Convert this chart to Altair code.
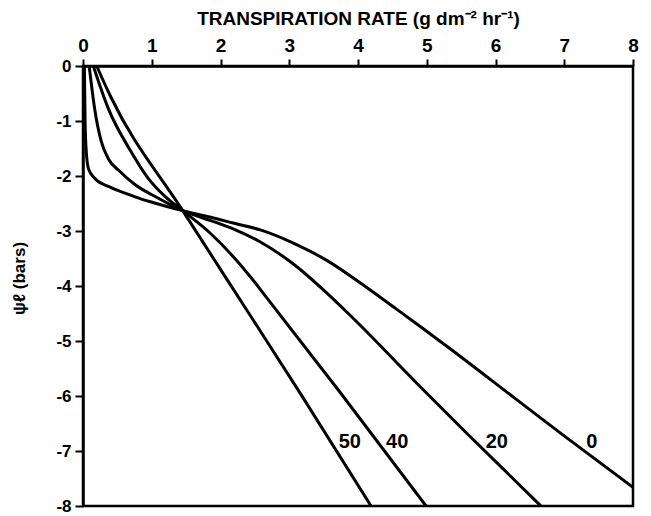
import altair as alt
import pandas as pd

# Curve data (transpiration rate vs leaf water potential)
c0_x = [0.02, 0.03, 0.05, 0.08, 0.17, 0.37, 0.65, 0.85, 1.04, 1.45, 1.86, 2.2, 2.58, 3.06, 3.54, 4.03, 4.56, 4.92, 5.35, 6.27, 6.95, 8.0]
c0_y = [0, -1.0, -1.6, -1.87, -2.04, -2.19, -2.33, -2.42, -2.49, -2.63, -2.75, -2.86, -2.98, -3.22, -3.53, -3.94, -4.42, -4.75, -5.15, -6.03, -6.68, -7.66]

c20_x = [0.09, 0.17, 0.27, 0.37, 0.53, 0.75, 1.09, 1.45, 1.9, 2.2, 2.58, 3.06, 3.54, 3.9, 4.92, 5.6, 6.66]
c20_y = [0, -0.78, -1.39, -1.69, -1.91, -2.15, -2.40, -2.63, -2.83, -2.97, -3.2, -3.6, -4.12, -4.55, -5.85, -6.7, -8.0]

c40_x = [0.15, 0.37, 0.7, 0.94, 1.2, 1.45, 1.86, 2.44, 2.64, 3.75, 4.99]
c40_y = [0, -0.78, -1.56, -2.03, -2.38, -2.63, -3.05, -3.84, -4.16, -5.95, -8.0]

c50_x = [0.2, 0.27, 0.4, 1.45, 2.44, 3.17, 4.19]
c50_y = [0, -0.2, -0.55, -2.63, -4.55, -5.97, -8.0]

label_text = ["50", "40", "20", "0"]
label_x = [3.88, 4.57, 6.02, 7.4]
label_y = [-6.84, -6.84, -6.84, -6.84]

rows = []
for name, xs, ys in [("0", c0_x, c0_y), ("20", c20_x, c20_y), ("40", c40_x, c40_y), ("50", c50_x, c50_y)]:
    for i, (a, b) in enumerate(zip(xs, ys)):
        rows.append({"series": name, "rate": a, "psi": b, "order": i})
df = pd.DataFrame(rows)
labels = pd.DataFrame({"text": label_text, "rate": label_x, "psi": label_y})

FONT = "Liberation Sans"

xscale = alt.Scale(domain=[0, 8], nice=False, zero=False)
yscale = alt.Scale(domain=[-8, 0], nice=False, zero=False)

lines = alt.Chart(df).mark_line(color="black", strokeWidth=3, interpolate="monotone", clip=True).encode(
    x=alt.X("rate:Q", scale=xscale,
            axis=alt.Axis(orient="top", title="TRANSPIRATION RATE (g dm⁻² hr⁻¹)",
                          values=[0, 1, 2, 3, 4, 5, 6, 7, 8], format="d", grid=False,
                          tickSize=7, tickWidth=2, tickColor="black",
                          domainWidth=2.5, domainColor="black",
                          labelFont=FONT, labelFontSize=19, labelFontWeight="bold", labelColor="black",
                          labelPadding=4, labelFlush=False,
                          titleFont=FONT, titleFontSize=19, titleFontWeight="bold", titleColor="black",
                          titlePadding=8)),
    y=alt.Y("psi:Q", scale=yscale,
            axis=alt.Axis(orient="left", title="ψℓ (bars)",
                          values=[0, -1, -2, -3, -4, -5, -6, -7, -8], grid=False,
                          labelExpr="datum.value == 0 ? '0' : '-' + abs(datum.value)",
                          tickSize=8, tickWidth=2, tickColor="black",
                          domainWidth=2.5, domainColor="black",
                          labelFont=FONT, labelFontSize=17, labelFontWeight="bold", labelColor="black",
                          labelPadding=4, labelFlush=False,
                          titleFont=FONT, titleFontSize=17, titleFontWeight="bold", titleColor="black",
                          titlePadding=27, titleY=212)),
    detail="series:N",
    order="order:Q",
)

text = alt.Chart(labels).mark_text(font=FONT, fontSize=20, fontWeight="bold", color="black").encode(
    x=alt.X("rate:Q", scale=xscale),
    y=alt.Y("psi:Q", scale=yscale),
    text="text:N",
)

chart = (lines + text).properties(
    width=550, height=440,
    autosize=alt.AutoSizeParams(type="none"),
    padding={"left": 75, "top": 58, "right": 10, "bottom": 10},
    background="white",
).configure_view(stroke="black", strokeWidth=2.5)

chart.save("out.html", embed_options={"renderer": "svg", "actions": False})
